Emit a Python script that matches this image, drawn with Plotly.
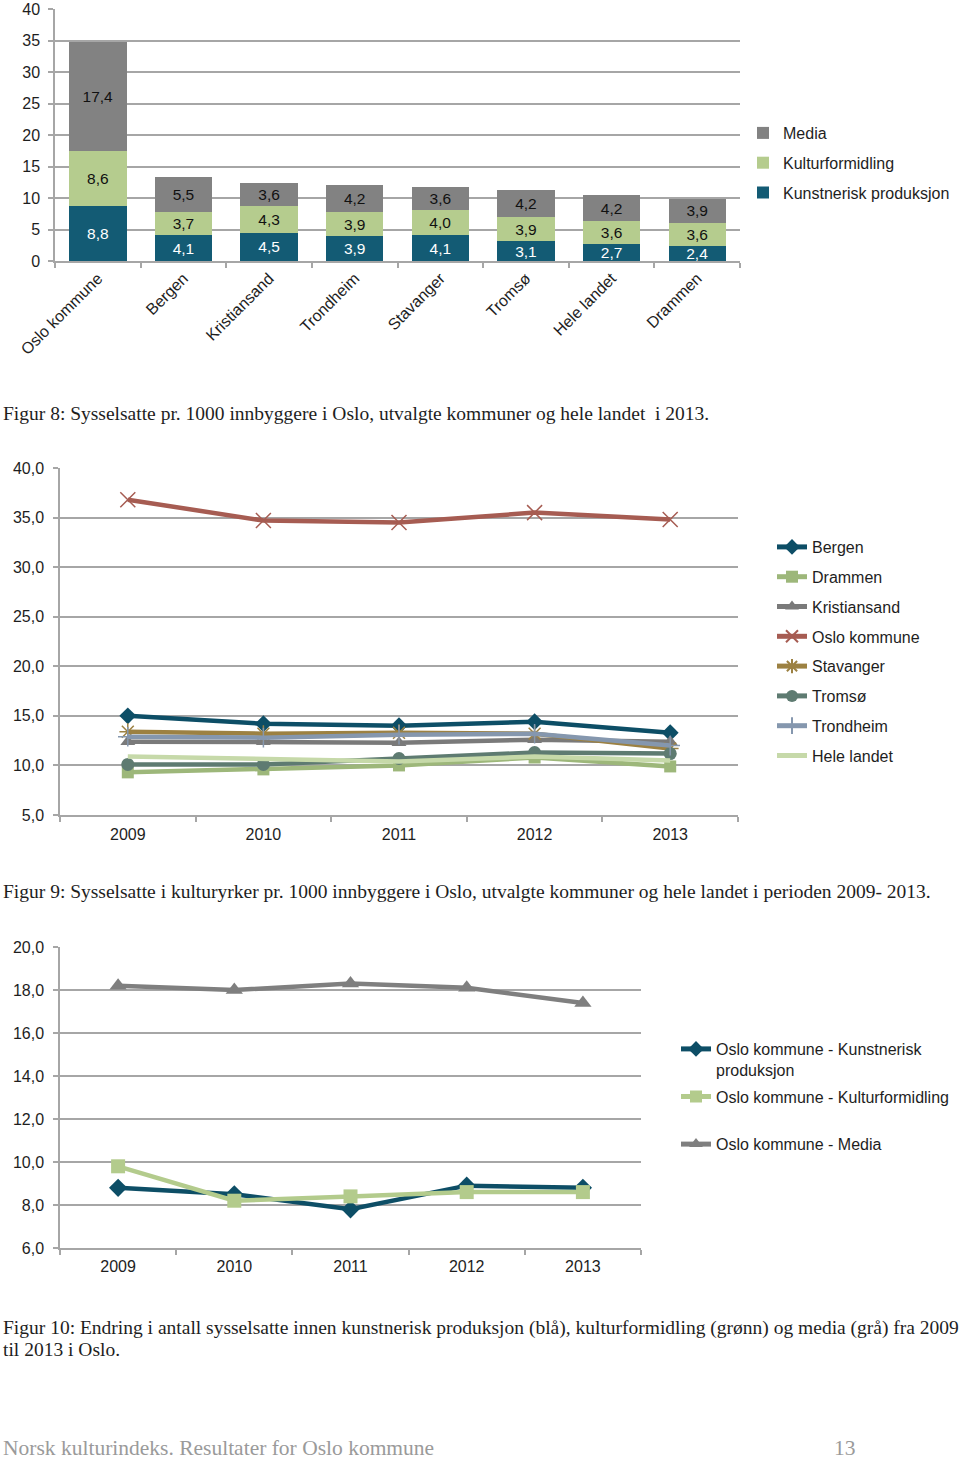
import plotly.graph_objects as go

W, H = 960, 1461

# ---------- Data ----------
kommuner = ["Oslo kommune", "Bergen", "Kristiansand", "Trondheim", "Stavanger",
            "Tromsø", "Hele landet", "Drammen"]
kunstnerisk = [8.8, 4.1, 4.5, 3.9, 4.1, 3.1, 2.7, 2.4]
kulturformidling = [8.6, 3.7, 4.3, 3.9, 4.0, 3.9, 3.6, 3.6]
media = [17.4, 5.5, 3.6, 4.2, 3.6, 4.2, 4.2, 3.9]

years = ["2009", "2010", "2011", "2012", "2013"]
bergen = [15.0, 14.2, 14.0, 14.4, 13.3]
drammen = [9.3, 9.6, 10.0, 10.8, 9.9]
kristiansand = [12.4, 12.4, 12.3, 12.6, 12.4]
oslo = [36.8, 34.7, 34.5, 35.5, 34.8]
stavanger = [13.4, 13.2, 13.3, 13.2, 11.7]
tromso = [10.1, 10.1, 10.7, 11.3, 11.2]
trondheim = [12.9, 12.8, 13.1, 13.2, 12.0]
hele_landet = [10.9, 10.6, 10.4, 10.9, 10.5]

oslo_kunst = [8.8, 8.5, 7.8, 8.9, 8.8]
oslo_kultur = [9.8, 8.2, 8.4, 8.6, 8.6]
oslo_media = [18.2, 18.0, 18.3, 18.1, 17.4]

# ---------- Helpers ----------
def px_x(p):
    return p / W

def px_y(p):
    return 1 - p / H

SANS = "Liberation Sans, Arial, sans-serif"
SERIF = "Liberation Serif, Times New Roman, serif"
GRID = "#A6A6A6"
TXT = "#1E1E1E"

TEAL = "#135B74"
LGREEN = "#B5CC8E"
MGRAY = "#828282"

fig = go.Figure()

# ---------- Chart 1: stacked bars ----------
for name, vals, col, tcol, rank in [
    ("Kunstnerisk produksjon", kunstnerisk, TEAL, "white", 3),
    ("Kulturformidling", kulturformidling, LGREEN, "#111111", 2),
    ("Media", media, MGRAY, "#111111", 1),
]:
    fig.add_trace(go.Bar(
        x=kommuner, y=vals, name=name, marker=dict(color=col, line=dict(width=0)),
        texttemplate="%{y:.1f}", textposition="inside", insidetextanchor="middle",
        textfont=dict(family=SANS, size=15.5, color=tcol), constraintext="none",
        xaxis="x", yaxis="y", legend="legend", legendgroup=name, legendrank=rank,
    ))

# ---------- Chart 2: lines ----------
series2 = [
    ("Bergen", bergen, "#0D4E66", dict(symbol="diamond", size=13)),
    ("Drammen", drammen, "#9DB77A", dict(symbol="square", size=12)),
    ("Kristiansand", kristiansand, "#7A7A7A", dict(symbol="triangle-up", size=13)),
    ("Oslo kommune", oslo, "#A65C52", dict(symbol="x-thin-open", size=15,
                                           line=dict(width=1.5, color="#8A5A55"))),
    ("Stavanger", stavanger, "#9C8142", dict(symbol="asterisk-open", size=14,
                                            line=dict(width=1.5, color="#B59A55"))),
    ("Tromsø", tromso, "#5E7B71", dict(symbol="circle", size=13)),
    ("Trondheim", trondheim, "#8597AE", dict(symbol="cross-thin-open", size=14,
                                           line=dict(width=1.5, color="#8597AE"))),
    ("Hele landet", hele_landet, "#C6D9A9", None),
]
for name, vals, col, mk in series2:
    if mk is None:
        fig.add_trace(go.Scatter(x=years, y=vals, name=name, mode="lines",
                                 line=dict(color=col, width=4.5),
                                 xaxis="x2", yaxis="y2", legend="legend2", legendgroup=name))
    else:
        m = dict(mk)
        m.setdefault("color", col)
        fig.add_trace(go.Scatter(x=years, y=vals, name=name, mode="lines+markers",
                                 line=dict(color=col, width=4.5), marker=m,
                                 xaxis="x2", yaxis="y2", legend="legend2", legendgroup=name))

# ---------- Chart 3: lines ----------
series3 = [
    ("Oslo kommune - Kunstnerisk<br>produksjon", oslo_kunst, "#0D4E66", "diamond", 14),
    ("Oslo kommune - Kulturformidling<br> ", oslo_kultur, "#B3CB8C", "square", 14),
    ("Oslo kommune - Media", oslo_media, "#7F7F7F", "triangle-up", 15),
]
for name, vals, col, sym, sz in series3:
    fig.add_trace(go.Scatter(x=years, y=vals, name=name, mode="lines+markers",
                             line=dict(color=col, width=4.5),
                             marker=dict(symbol=sym, size=sz, color=col),
                             xaxis="x3", yaxis="y3", legend="legend3", legendgroup=name))

# ---------- Axes ----------
tickfont = dict(family=SANS, size=16, color=TXT)

def xcat(domain, anchor, **kw):
    d = dict(domain=domain, anchor=anchor, type="category",
             showline=True, linecolor=GRID, linewidth=1.5,
             ticks="outside", tickson="boundaries", ticklen=5, tickcolor=GRID, tickwidth=1.5,
             showgrid=False, tickfont=tickfont, fixedrange=True, automargin=False)
    d.update(kw)
    return d

def ylin(domain, anchor, rng, dtick, fmt, **kw):
    d = dict(domain=domain, anchor=anchor, range=rng, dtick=dtick, tickformat=fmt,
             showline=True, linecolor=GRID, linewidth=1.5,
             ticks="outside", ticklen=5, tickcolor=GRID, tickwidth=1.5,
             showgrid=True, gridcolor=GRID, gridwidth=1.5, zeroline=False,
             tickfont=tickfont, fixedrange=True, automargin=False,
             ticklabeloverflow="allow")
    d.update(kw)
    return d

legfont = dict(family=SANS, size=16, color=TXT)

fig.update_layout(
    xaxis=xcat([px_x(55), px_x(740)], "y", tickangle=-45, range=[-0.5, 7.5]),
    yaxis=ylin([px_y(261), px_y(9)], "x", [0, 40], 5, "d", ticklabelstandoff=5),
    xaxis2=xcat([px_x(60), px_x(738)], "y2", range=[-0.5, 4.5], ticklabelstandoff=4),
    yaxis2=ylin([px_y(815), px_y(468)], "x2", [5, 40], 5, ".1f", ticklabelstandoff=6),
    xaxis3=xcat([px_x(60), px_x(641)], "y3", range=[-0.5, 4.5], ticklabelstandoff=3),
    yaxis3=ylin([px_y(1248), px_y(947)], "x3", [6, 20], 2, ".1f", ticklabelstandoff=6),
    barmode="stack", bargap=0.33,
    separators=", ",
    width=W, height=H, margin=dict(l=0, r=0, t=0, b=0, autoexpand=False),
    paper_bgcolor="white", plot_bgcolor="white",
    font=dict(family=SANS, size=16, color=TXT),
    legend=dict(x=px_x(743), y=px_y(116), xanchor="left", yanchor="top",
                traceorder="grouped", tracegroupgap=6,
                font=legfont, bgcolor="rgba(0,0,0,0)"),
    legend2=dict(x=px_x(772), y=px_y(530), xanchor="left", yanchor="top",
                 traceorder="grouped", tracegroupgap=6, itemsizing="constant",
                 font=legfont, bgcolor="rgba(0,0,0,0)"),
    legend3=dict(x=px_x(676), y=px_y(1032), xanchor="left", yanchor="top",
                 traceorder="grouped", tracegroupgap=3, valign="top", itemsizing="constant",
                 font=legfont, bgcolor="rgba(0,0,0,0)"),
    showlegend=True,
)

# ---------- Captions ----------
captions = [
    ("Figur 8: Sysselsatte pr. 1000 innbyggere i Oslo, utvalgte kommuner og hele landet  i 2013.", 413),
    ("Figur 9: Sysselsatte i kulturyrker pr. 1000 innbyggere i Oslo, utvalgte kommuner og hele landet i perioden 2009- 2013.", 891),
    ("Figur 10: Endring i antall sysselsatte innen kunstnerisk produksjon (blå), kulturformidling (grønn) og media (grå) fra 2009", 1328),
    ("til 2013 i Oslo.", 1349),
]
for txt, yy in captions:
    fig.add_annotation(text=txt, x=px_x(1), y=px_y(yy), xref="paper", yref="paper",
                       xanchor="left", yanchor="middle", showarrow=False,
                       font=dict(family=SERIF, size=19.5, color="#1E1E1E"))

fig.add_annotation(text="Norsk kulturindeks. Resultater for Oslo kommune", x=px_x(1), y=px_y(1448),
                   xref="paper", yref="paper", xanchor="left", yanchor="middle", showarrow=False,
                   font=dict(family=SERIF, size=21.5, color="#9A9A9A"))
fig.add_annotation(text="13", x=px_x(845), y=px_y(1448),
                   xref="paper", yref="paper", xanchor="center", yanchor="middle", showarrow=False,
                   font=dict(family=SERIF, size=21.5, color="#9A9A9A"))

fig.write_html("out.html")
